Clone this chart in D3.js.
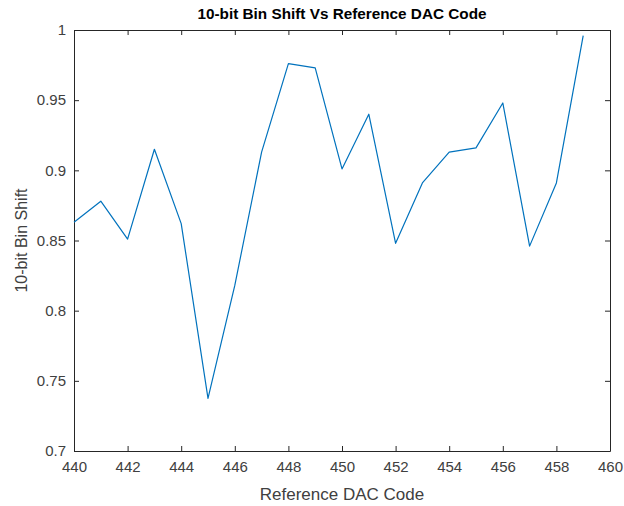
<!DOCTYPE html>
<html>
<head>
<meta charset="utf-8">
<script src="https://cdn.jsdelivr.net/npm/d3@7"></script>
<style>
  body { margin: 0; background: #fff; }
  text { font-family: "Liberation Sans", Arial, sans-serif; }
</style>
</head>
<body>
<div id="chart"></div>
<script>
var codes = [440, 441, 442, 443, 444, 445, 446, 447, 448, 449, 450, 451, 452, 453, 454, 455, 456, 457, 458, 459];
var binShift = [0.863, 0.878, 0.851, 0.915, 0.862, 0.7375, 0.818, 0.913, 0.976, 0.973, 0.901, 0.940, 0.848, 0.891, 0.913, 0.916, 0.948, 0.846, 0.891, 0.996];
var xTicks = [440, 442, 444, 446, 448, 450, 452, 454, 456, 458, 460];
var yTicks = [0.7, 0.75, 0.8, 0.85, 0.9, 0.95, 1];

var width = 624, height = 506;
var margin = {top: 30, right: 14, bottom: 55, left: 74};
var w = width - margin.left - margin.right;
var h = height - margin.top - margin.bottom;

var svg = d3.select('#chart').append('svg')
  .attr('width', width)
  .attr('height', height);

var g = svg.append('g')
  .attr('transform', 'translate(' + margin.left + ',' + margin.top + ')');

var x = d3.scaleLinear().domain([440, 460]).range([0, w]);
var y = d3.scaleLinear().domain([0.7, 1]).range([h, 0]);

var axisColor = '#262626';
var tickLabel = '#404040';

// bottom + left axes with labels, ticks pointing inward
var styleAxis = function(sel) {
  sel.select('.domain').attr('stroke', axisColor).attr('stroke-width', 1);
  sel.selectAll('.tick line').attr('stroke', axisColor);
  sel.selectAll('.tick text').attr('fill', tickLabel).style('font-size', '15px');
};

g.append('g')
  .attr('transform', 'translate(0,' + h + ')')
  .call(d3.axisBottom(x).tickValues(xTicks).tickSizeInner(-5).tickSizeOuter(0).tickPadding(10))
  .call(styleAxis);

g.append('g')
  .call(d3.axisLeft(y).tickValues(yTicks).tickSizeInner(-5).tickSizeOuter(0).tickPadding(8)
    .tickFormat(function(d) { return d3.format('')(+d.toFixed(2)); }))
  .call(styleAxis);

// top + right (box), ticks only
g.append('g')
  .call(d3.axisTop(x).tickValues(xTicks).tickSizeInner(-5).tickSizeOuter(0).tickFormat(''))
  .call(styleAxis);

g.append('g')
  .attr('transform', 'translate(' + w + ',0)')
  .call(d3.axisRight(y).tickValues(yTicks).tickSizeInner(-5).tickSizeOuter(0).tickFormat(''))
  .call(styleAxis);

var line = d3.line()
  .x(function(d, i) { return x(codes[i]); })
  .y(function(d) { return y(d); });

g.append('path')
  .datum(binShift)
  .attr('d', line)
  .attr('fill', 'none')
  .attr('stroke', '#0072BD')
  .attr('stroke-width', 1.2)
  .attr('stroke-linejoin', 'round');

svg.append('text')
  .attr('x', margin.left + w / 2)
  .attr('y', 19)
  .attr('text-anchor', 'middle')
  .attr('fill', '#000')
  .style('font-size', '15.3px')
  .style('font-weight', 'bold')
  .text('10-bit Bin Shift Vs Reference DAC Code');

svg.append('text')
  .attr('x', margin.left + w / 2)
  .attr('y', 500)
  .attr('text-anchor', 'middle')
  .attr('fill', tickLabel)
  .style('font-size', '17px')
  .text('Reference DAC Code');

svg.append('text')
  .attr('transform', 'translate(27,' + (margin.top + h / 2) + ') rotate(-90)')
  .attr('text-anchor', 'middle')
  .attr('fill', tickLabel)
  .style('font-size', '16px')
  .text('10-bit Bin Shift');
</script>
</body>
</html>
